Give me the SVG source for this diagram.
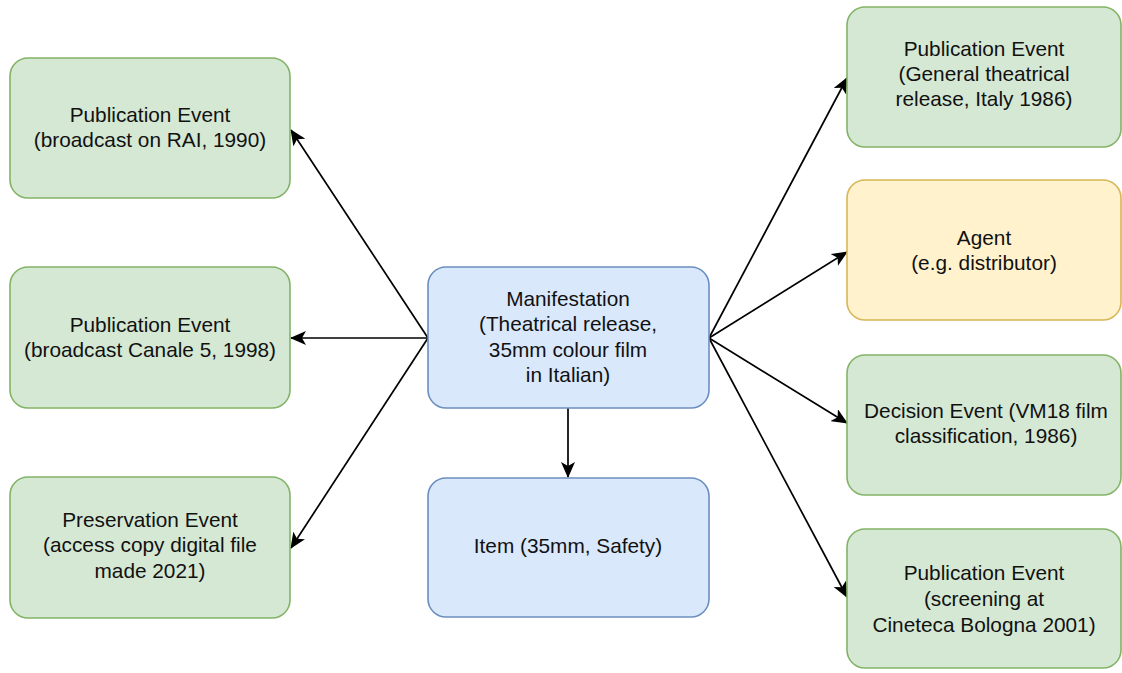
<svg xmlns="http://www.w3.org/2000/svg" width="1122" height="673" viewBox="0 0 1122 673">
  <style>
    .box { stroke-width: 1.6; }
    .green { fill: #d5e8d4; stroke: #82b366; }
    .blue { fill: #dae8fc; stroke: #6c8ebf; }
    .yellow { fill: #fff2cc; stroke: #d6b656; }
    text { font-family: "Liberation Sans", Arial, sans-serif; font-size: 20.8px; fill: #111; text-anchor: middle; }
    .edge { fill: none; stroke: #000; stroke-width: 1.7; marker-end: url(#arrow); }
  </style>
  <defs>
    <marker id="arrow" viewBox="0 0 16 14" refX="15" refY="7" markerWidth="16" markerHeight="14" markerUnits="userSpaceOnUse" orient="auto">
      <path d="M0,0 L16,7 L0,14 L4,7 Z" fill="#000"/>
    </marker>
  </defs>
  <rect width="1122" height="673" fill="#fff"/>

  <!-- connectors -->
  <g id="connectors">
    <line class="edge" x1="428" y1="338" x2="291" y2="130"/>
    <line class="edge" x1="428" y1="338" x2="291" y2="338"/>
    <line class="edge" x1="428" y1="338" x2="291" y2="548"/>
    <line class="edge" x1="709" y1="338" x2="847" y2="78"/>
    <line class="edge" x1="709" y1="338" x2="847" y2="252"/>
    <line class="edge" x1="709" y1="338" x2="847" y2="423"/>
    <line class="edge" x1="709" y1="338" x2="847" y2="597"/>
    <line class="edge" x1="568" y1="408" x2="568" y2="477"/>
  </g>

  <!-- left column -->
  <g id="pub-rai">
    <rect class="box green" x="10" y="58" width="280" height="140" rx="18"/>
    <text x="150" y="122">Publication Event</text>
    <text x="150" y="147">(broadcast on RAI, 1990)</text>
  </g>
  <g id="pub-canale5">
    <rect class="box green" x="10" y="267" width="280" height="141" rx="18"/>
    <text x="150" y="332">Publication Event</text>
    <text x="150" y="357">(broadcast Canale 5, 1998)</text>
  </g>
  <g id="preservation">
    <rect class="box green" x="10" y="477" width="280" height="141" rx="18"/>
    <text x="150" y="527">Preservation Event</text>
    <text x="150" y="552">(access copy digital file</text>
    <text x="150" y="578">made 2021)</text>
  </g>

  <!-- centre column -->
  <g id="manifestation">
    <rect class="box blue" x="428" y="267" width="281" height="141" rx="18"/>
    <text x="568" y="306">Manifestation</text>
    <text x="568" y="331">(Theatrical release,</text>
    <text x="568" y="357">35mm colour film</text>
    <text x="568" y="382">in Italian)</text>
  </g>
  <g id="item">
    <rect class="box blue" x="428" y="478" width="281" height="139" rx="18"/>
    <text x="568" y="553">Item (35mm, Safety)</text>
  </g>

  <!-- right column -->
  <g id="pub-theatrical">
    <rect class="box green" x="847" y="7" width="274" height="140" rx="18"/>
    <text x="984" y="56">Publication Event</text>
    <text x="984" y="81">(General theatrical</text>
    <text x="984" y="106">release, Italy 1986)</text>
  </g>
  <g id="agent">
    <rect class="box yellow" x="847" y="180" width="274" height="140" rx="18"/>
    <text x="984" y="245">Agent</text>
    <text x="984" y="270">(e.g. distributor)</text>
  </g>
  <g id="decision">
    <rect class="box green" x="847" y="355" width="274" height="140" rx="18"/>
    <text x="986" y="418">Decision Event (VM18 film</text>
    <text x="986" y="443">classification, 1986)</text>
  </g>
  <g id="pub-screening">
    <rect class="box green" x="847" y="529" width="274" height="139" rx="18"/>
    <text x="984" y="580">Publication Event</text>
    <text x="984" y="606">(screening at</text>
    <text x="984" y="632">Cineteca Bologna 2001)</text>
  </g>
</svg>
